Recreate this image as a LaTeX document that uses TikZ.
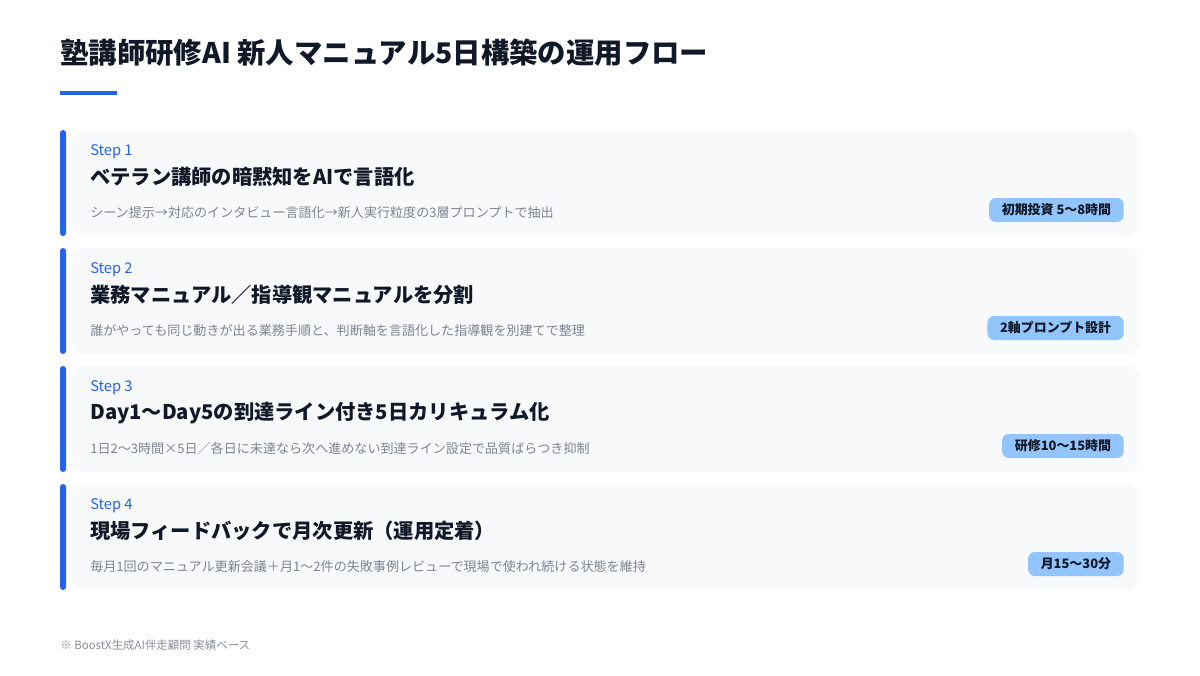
\documentclass[tikz,border=0pt]{standalone}
\usepackage{fontspec}
\setmainfont{Noto Sans CJK JP}
\usetikzlibrary{calc}
\definecolor{akzent}{RGB}{37,99,235}
\definecolor{tinte}{RGB}{17,24,39}
\definecolor{grau}{RGB}{125,133,146}
\definecolor{karte}{RGB}{248,249,251}
\definecolor{marke}{RGB}{147,197,253}
\definecolor{notiz}{RGB}{138,143,152}

\begin{document}
\begin{tikzpicture}[x=0.75pt, y=-0.75pt]

    \useasboundingbox[fill=white] (0,0) rectangle (1200,675);

    \node[anchor=west, tinte, font=\fontsize{21.3}{25}\selectfont\bfseries, inner sep=0pt] (titel) at (60,53) {塾講師研修AI 新人マニュアル5日構築の運用フロー};
    \draw[akzent, line width=3pt] (60,92.5) -- (117,92.5);

    \foreach \i/\kopf/\text/\marke in {
        1/{ベテラン講師の暗黙知をAIで言語化}/{シーン提示→対応のインタビュー言語化→新人実行粒度の3層プロンプトで抽出}/{初期投資 5〜8時間},
        2/{業務マニュアル／指導観マニュアルを分割}/{誰がやっても同じ動きが出る業務手順と、判断軸を言語化した指導観を別建てで整理}/{2軸プロンプト設計},
        3/{Day1〜Day5の到達ライン付き5日カリキュラム化}/{1日2〜3時間×5日／各日に未達なら次へ進めない到達ライン設定で品質ばらつき抑制}/{研修10〜15時間},
        4/{現場フィードバックで月次更新（運用定着）}/{毎月1回のマニュアル更新会議＋月1〜2件の失敗事例レビューで現場で使われ続ける状態を維持}/{月15〜30分}}{
            \pgfmathsetmacro{\oben}{130+118*(\i-1)}
            \fill[karte, rounded corners=10pt] (72,\oben) rectangle ++ (1068,106);
            \fill[akzent, rounded corners=2.2pt] (60,\oben) rectangle ++ (6,106);
            \node[anchor=west, akzent, font=\fontsize{11}{13}\selectfont, inner sep=0pt] (S\i) at (90,\oben+22) {Step \i};
            \node[anchor=west, tinte, font=\fontsize{15.2}{18}\selectfont\bfseries, inner sep=0pt] (H\i) at (90,\oben+47) {\kopf};
            \node[anchor=west, grau, font=\fontsize{9.8}{12}\selectfont, inner sep=0pt] (D\i) at (90,\oben+83) {\text};
            \node[anchor=east, fill=marke, rounded corners=5pt, text=tinte, font=\fontsize{9.7}{11}\selectfont\bfseries, minimum height=18pt, inner xsep=9.5pt] (B\i) at (1124,\oben+80) {\marke};
        }

    \node[anchor=west, notiz, font=\fontsize{8.6}{10}\selectfont, inner sep=0pt] (fuss) at (60,645) {※ BoostX生成AI伴走顧問 実績ベース};

\end{tikzpicture}
\end{document}
